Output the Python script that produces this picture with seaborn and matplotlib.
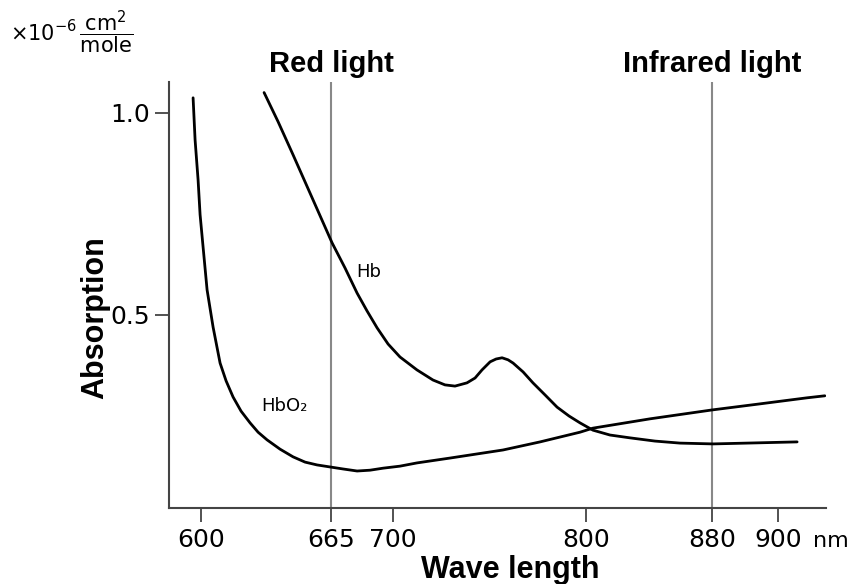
import numpy as np
import pandas as pd
import matplotlib
matplotlib.use('Agg')
import matplotlib.pyplot as plt
import seaborn as sns

# absorption curves (wavelength in nm, absorption x1e-6 cm2/mole)
hbo2_nm = [596, 597, 598.5, 599.5, 601, 603, 606, 609.5, 612.5, 616, 620, 624.5, 628.5, 633,
           639.5, 646, 652, 658, 664.5, 671.8, 679.7, 687, 694.4, 703.6, 712.4, 729.5, 757,
           776.2, 796.9, 804.4, 840.6, 880, 894.5, 908.8, 914.2]
hbo2_abs = [1.037, 0.933, 0.834, 0.748, 0.668, 0.562, 0.470, 0.381, 0.337, 0.297, 0.262, 0.233,
            0.210, 0.191, 0.168, 0.149, 0.136, 0.129, 0.124, 0.119, 0.114, 0.116, 0.121, 0.126,
            0.134, 0.146, 0.166, 0.186, 0.210, 0.220, 0.243, 0.265, 0.280, 0.295, 0.300]

hb_nm = [631.5, 638.5, 646, 655.5, 665.6, 672.9, 679.7, 685.3, 691, 697.2, 703.6, 712.4, 720.7,
         726.9, 732.1, 738.3, 742.5, 746.1, 750.3, 753.4, 756.5, 759.6, 762.2, 767.4, 772.5,
         778.8, 785, 791.2, 796.9, 804.4, 815.2, 827.9, 843.8, 859.7, 880.3, 890.6, 905.8]
hb_abs = [1.050, 0.978, 0.896, 0.790, 0.678, 0.616, 0.554, 0.510, 0.468, 0.428, 0.396, 0.364,
          0.339, 0.327, 0.324, 0.332, 0.344, 0.364, 0.384, 0.391, 0.394, 0.389, 0.381, 0.359,
          0.332, 0.302, 0.272, 0.250, 0.233, 0.215, 0.203, 0.196, 0.188, 0.183, 0.181, 0.183,
          0.186]

x_ticks = [600, 665, 700, 800, 880, 900]
y_ticks = [0.5, 1.0]
light_nm = [665, 880]
light_names = ['Red light', 'Infrared light']

# the original axis is drawn unevenly, so map wavelength to position piecewise
scale_nm = np.array([560, 600, 665, 700, 800, 880, 900, 940])
scale_pos = np.array([121, 201, 331, 393, 586, 712, 778, 910])


def forward(x):
    return np.interp(x, scale_nm, scale_pos)


def inverse(p):
    return np.interp(p, scale_pos, scale_nm)


df = pd.concat([
    pd.DataFrame({'nm': hbo2_nm, 'abs': hbo2_abs, 'species': 'HbO2'}),
    pd.DataFrame({'nm': hb_nm, 'abs': hb_abs, 'species': 'Hb'}),
])

sns.set_style('ticks')
plt.rcParams['font.family'] = ['DejaVu Sans']
plt.rcParams['text.color'] = 'black'
plt.rcParams['xtick.labelcolor'] = 'black'
plt.rcParams['ytick.labelcolor'] = 'black'

fig = plt.figure(figsize=(8.54, 5.84), dpi=100)
ax = fig.add_axes([0.198, 0.130, 0.769, 0.730])

sns.lineplot(data=df, x='nm', y='abs', units='species', estimator=None, sort=False,
             color='black', linewidth=2, ax=ax)

for nm in light_nm:
    ax.axvline(nm, color='#888888', linewidth=1.5, zorder=0)

ax.set_xscale('function', functions=(forward, inverse))
ax.set_xlim(584, 914.5)
ax.set_ylim(0.0223, 1.0767)
ax.set_xticks(x_ticks)
ax.set_xticklabels([str(t) for t in x_ticks])
ax.set_yticks(y_ticks)
ax.set_yticklabels(['0.5', '1.0'])
ax.minorticks_off()

sns.despine(ax=ax)
for side in ['left', 'bottom']:
    ax.spines[side].set_color('#444444')
    ax.spines[side].set_linewidth(1.5)
ax.tick_params(axis='both', length=10, width=1.3, color='#444444', labelsize=18, pad=4,
               labelcolor='black')

ax.set_xlabel('')
ax.set_ylabel('')

bold = dict(family=['Liberation Sans', 'DejaVu Sans'], fontweight='bold')
fig.text(510 / 854, 1 - 570 / 584, 'Wave length', ha='center', va='center', fontsize=22, **bold)
fig.text(95 / 854, 1 - 318 / 584, 'Absorption', ha='center', va='center', rotation=90,
         fontsize=22, **bold)

for nm, name in zip(light_nm, light_names):
    ax.text(nm, 1.042, name, ha='center', va='center', fontsize=21,
            transform=ax.get_xaxis_transform(), **bold)

fig.text(831 / 854, 1 - 541 / 584, 'nm', ha='center', va='center', fontsize=16)

ax.text(686.5, 0.606, 'Hb', ha='center', va='center', fontsize=13)
ax.text(641.5, 0.275, 'HbO₂', ha='center', va='center', fontsize=13)

fig.text(10 / 854, 1 - 32 / 584, r'$\times10^{-6}\,\dfrac{\mathrm{cm^2}}{\mathrm{mole}}$',
         ha='left', va='center', fontsize=15)

fig.savefig('out.png', dpi=100)
